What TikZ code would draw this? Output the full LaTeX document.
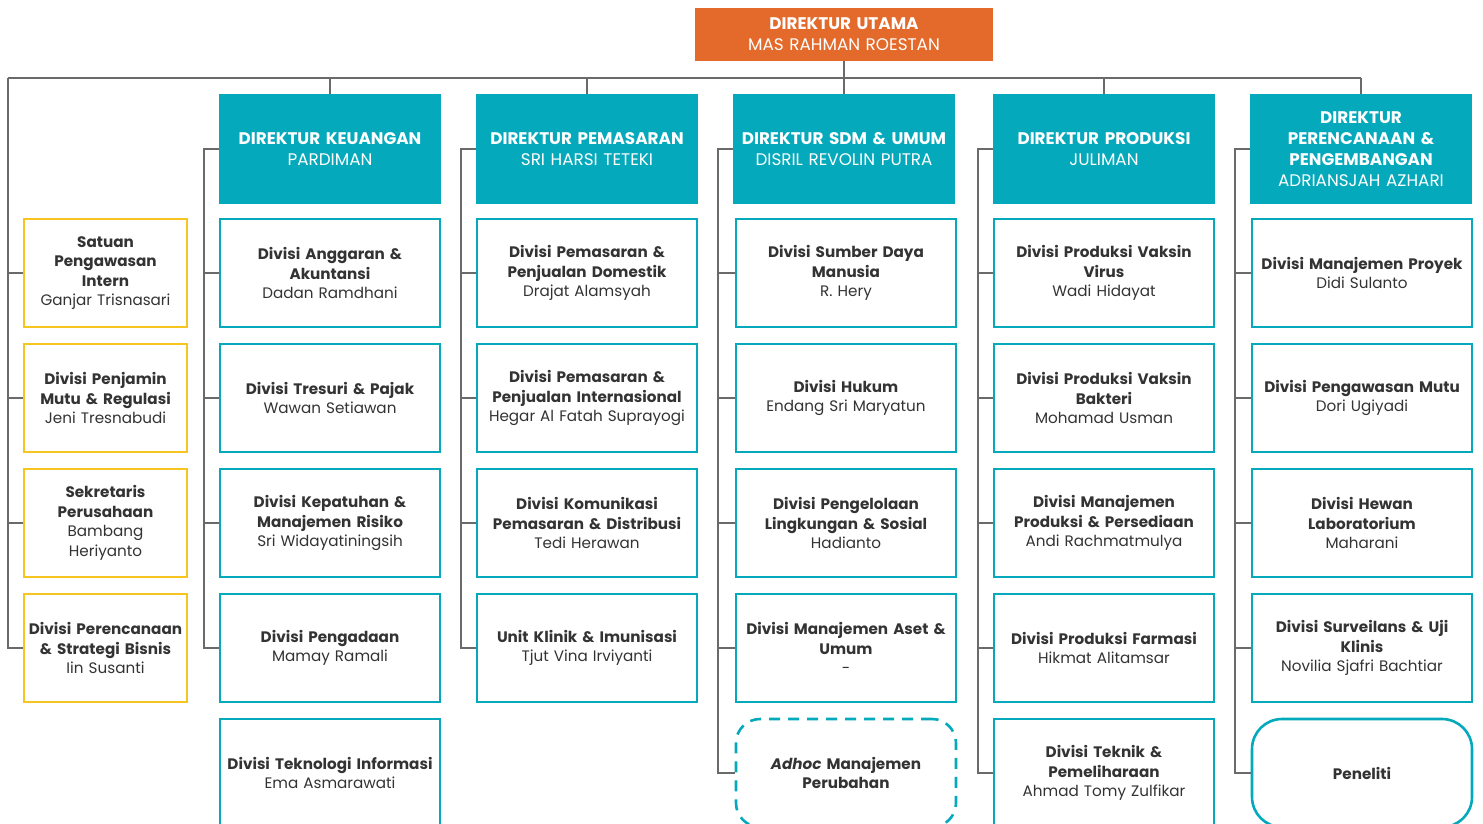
\documentclass[tikz,border=0pt]{standalone}
\usepackage{fontspec}
\setmainfont{Poppins}
\definecolor{utama}{HTML}{E36A2A}
\definecolor{toska}{HTML}{04A9BB}
\definecolor{kuning}{HTML}{F7C520}
\definecolor{garis}{HTML}{6A6A6A}
\definecolor{teks}{HTML}{333333}

\begin{document}
\begin{tikzpicture}
  [x=1pt,y=-1pt,
   dir/.style={fill=toska,text=white,minimum width=222pt,minimum height=110pt,
     text width=218pt,align=center,inner sep=0pt,font=\fontsize{16.8}{21}\selectfont},
   div/.style={draw=toska,line width=2.6pt,fill=white,text=teks,minimum width=220pt,
     minimum height=108pt,text width=216pt,align=center,inner sep=0pt,
     font=\fontsize{15.2}{19.5}\selectfont},
   sat/.style={div,draw=kuning,minimum width=163pt,text width=162pt},
   adhoc/.style={div,dash pattern=on 11pt off 8pt,rounded corners=24pt},
   riset/.style={div,rounded corners=30pt},
   conn/.style={draw=garis,line width=1.6pt}]
  \useasboundingbox (0,0) rectangle (1483,823);
  \clip (0,0) rectangle (1483,823);

  % direksi
  \node[dir,fill=utama,minimum width=298pt,minimum height=53pt] (ndu) at (844,34.5)
    {\textbf{DIREKTUR UTAMA}\\MAS RAHMAN ROESTAN};
  \node[dir] (nk)  at (330,149)  {\textbf{DIREKTUR KEUANGAN}\\PARDIMAN};
  \node[dir] (np)  at (587,149)  {\textbf{DIREKTUR PEMASARAN}\\SRI HARSI TETEKI};
  \node[dir] (ns)  at (844,149)  {\textbf{DIREKTUR SDM \& UMUM}\\DISRIL REVOLIN PUTRA};
  \node[dir] (npr) at (1104,149) {\textbf{DIREKTUR PRODUKSI}\\JULIMAN};
  \node[dir] (nr)  at (1361,149)
    {\textbf{DIREKTUR\\PERENCANAAN \&\\PENGEMBANGAN}\\ADRIANSJAH AZHARI};

  % unit di bawah direktur utama
  \node[sat] (nu1) at (105.5,273) {\textbf{Satuan\\Pengawasan\\Intern}\\Ganjar Trisnasari};
  \node[sat] (nu2) at (105.5,398) {\textbf{Divisi Penjamin\\Mutu \& Regulasi}\\Jeni Tresnabudi};
  \node[sat] (nu3) at (105.5,523) {\textbf{Sekretaris\\Perusahaan}\\Bambang\\Heriyanto};
  \node[sat] (nu4) at (105.5,648) {\textbf{Divisi Perencanaan\\\& Strategi Bisnis}\\Iin Susanti};

  % keuangan
  \node[div] (nk1) at (330,273) {\textbf{Divisi Anggaran \&\\Akuntansi}\\Dadan Ramdhani};
  \node[div] (nk2) at (330,398) {\textbf{Divisi Tresuri \& Pajak}\\Wawan Setiawan};
  \node[div] (nk3) at (330,523) {\textbf{Divisi Kepatuhan \&\\Manajemen Risiko}\\Sri Widayatiningsih};
  \node[div] (nk4) at (330,648) {\textbf{Divisi Pengadaan}\\Mamay Ramali};
  \node[div] (nk5) at (330,773) {\textbf{Divisi Teknologi Informasi}\\Ema Asmarawati};

  % pemasaran
  \node[div] (np1) at (587,273) {\textbf{Divisi Pemasaran \&\\Penjualan Domestik}\\Drajat Alamsyah};
  \node[div] (np2) at (587,398) {\textbf{Divisi Pemasaran \&\\Penjualan Internasional}\\Hegar Al Fatah Suprayogi};
  \node[div] (np3) at (587,523) {\textbf{Divisi Komunikasi\\Pemasaran \& Distribusi}\\Tedi Herawan};
  \node[div] (np4) at (587,648) {\textbf{Unit Klinik \& Imunisasi}\\Tjut Vina Irviyanti};

  % sdm & umum
  \node[div] (ns1) at (846,273) {\textbf{Divisi Sumber Daya\\Manusia}\\R. Hery};
  \node[div] (ns2) at (846,398) {\textbf{Divisi Hukum}\\Endang Sri Maryatun};
  \node[div] (ns3) at (846,523) {\textbf{Divisi Pengelolaan\\Lingkungan \& Sosial}\\Hadianto};
  \node[div] (ns4) at (846,648) {\textbf{Divisi Manajemen Aset \&\\Umum}\\-};
  \node[adhoc] (ns5) at (846,773) {\textbf{\textit{Adhoc} Manajemen\\Perubahan}};

  % produksi
  \node[div] (npr1) at (1104,273) {\textbf{Divisi Produksi Vaksin\\Virus}\\Wadi Hidayat};
  \node[div] (npr2) at (1104,398) {\textbf{Divisi Produksi Vaksin\\Bakteri}\\Mohamad Usman};
  \node[div] (npr3) at (1104,523) {\textbf{Divisi Manajemen\\Produksi \& Persediaan}\\Andi Rachmatmulya};
  \node[div] (npr4) at (1104,648) {\textbf{Divisi Produksi Farmasi}\\Hikmat Alitamsar};
  \node[div] (npr5) at (1104,773) {\textbf{Divisi Teknik \&\\Pemeliharaan}\\Ahmad Tomy Zulfikar};

  % perencanaan & pengembangan
  \node[div] (nr1) at (1362,273) {\textbf{Divisi Manajemen Proyek}\\Didi Sulanto};
  \node[div] (nr2) at (1362,398) {\textbf{Divisi Pengawasan Mutu}\\Dori Ugiyadi};
  \node[div] (nr3) at (1362,523) {\textbf{Divisi Hewan\\Laboratorium}\\Maharani};
  \node[div] (nr4) at (1362,648) {\textbf{Divisi Surveilans \& Uji\\Klinis}\\Novilia Sjafri Bachtiar};
  \node[riset] (nr5) at (1362,773) {\textbf{Peneliti}};

  % garis
  \coordinate (hl) at (8,78);
  \coordinate (hr) at (1361,78);
  \draw[conn] (hl) -- (hr);
  \draw[conn] (ndu.south) -- (ndu.south |- hl);
  \foreach \d in {nk,np,ns,npr,nr}
    \draw[conn] (\d.north) -- (\d.north |- hl);
  \foreach \to in {nu1,nu2,nu3,nu4}
    \draw[conn] (hl) |- (\to.west);
  \foreach \from/\to in {nk/nk1,nk/nk2,nk/nk3,nk/nk4,np/np1,np/np2,np/np3,np/np4,
      ns/ns1,ns/ns2,ns/ns3,ns/ns4,ns/ns5,npr/npr1,npr/npr2,npr/npr3,npr/npr4,npr/npr5,
      nr/nr1,nr/nr2,nr/nr3,nr/nr4,nr/nr5}
    \draw[conn] (\from.west) -- ++(-15,0) |- (\to.west);
\end{tikzpicture}
\end{document}
